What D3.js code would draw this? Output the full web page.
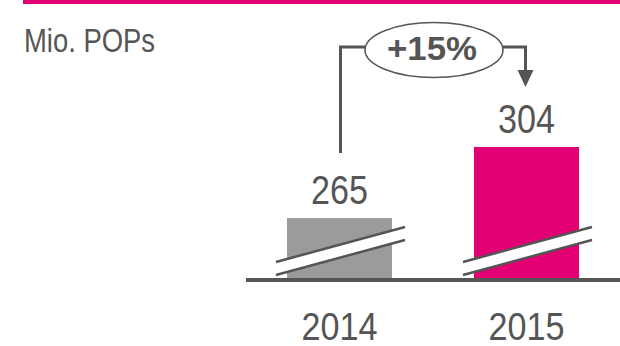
<!DOCTYPE html>
<html>
<head>
<meta charset="utf-8">
<script src="https://cdn.jsdelivr.net/npm/d3@7"></script>
<style>
  body { margin: 0; background: #fff; }
  svg text { font-family: "Liberation Sans Narrow", "Arial Narrow", "Liberation Sans", sans-serif; fill: #555; }
</style>
</head>
<body>
<div id="chart"></div>
<script>
// CONSTANTS
const magenta = "#E20074";
const grey = "#9B9B9B";
const ink = "#555555";
const width = 620;
const height = 346;

// data
const years = ["2014", "2015"];
const pops = [265, 304];
const barColors = [grey, magenta];
const unitLabel = "Mio. POPs";
const growthLabel = "+15%";

const svg = d3.select("#chart")
  .append("svg")
  .attr("width", width)
  .attr("height", height);

// squeeze text to a condensed look (no narrow font installed)
const condense = (sel, len) =>
  sel.attr("textLength", len).attr("lengthAdjust", "spacingAndGlyphs");

// top brand bar
svg.append("rect")
  .attr("x", 23).attr("y", 0)
  .attr("width", width - 23).attr("height", 4)
  .attr("fill", magenta);

// broken axis: bars start well above zero
const x = d3.scaleBand()
  .domain(years)
  .range([287, 579])
  .paddingInner(0.4385)
  .paddingOuter(0);

const y = d3.scaleLinear()
  .domain([231, 304])
  .range([280, 147]);

const baseY = y(231);

const data = years.map((yr, i) => ({ year: yr, value: pops[i], color: barColors[i] }));

// bars
svg.selectAll(".bar")
  .data(data)
  .enter()
  .append("rect")
  .attr("class", "bar")
  .attr("x", d => x(d.year))
  .attr("y", d => y(d.value))
  .attr("width", x.bandwidth())
  .attr("height", d => baseY - y(d.value))
  .attr("fill", d => d.color);

// break marks (white band with two slanted lines)
const breakG = svg.selectAll(".brk")
  .data(data)
  .enter()
  .append("g")
  .attr("class", "brk")
  .attr("transform", d => `translate(${x(d.year) - 11},${baseY})`);

breakG.append("path")
  .attr("d", "M0,-18 L129,-53 L129,-40 L0,-5 Z")
  .attr("fill", "#fff");
breakG.append("line")
  .attr("x1", 0).attr("y1", -18).attr("x2", 129).attr("y2", -53)
  .attr("stroke", ink).attr("stroke-width", 2.5);
breakG.append("line")
  .attr("x1", 0).attr("y1", -5).attr("x2", 129).attr("y2", -40)
  .attr("stroke", ink).attr("stroke-width", 2.5);

// baseline
svg.append("line")
  .attr("x1", 246).attr("x2", width)
  .attr("y1", baseY).attr("y2", baseY)
  .attr("stroke", ink).attr("stroke-width", 4);

// value labels
svg.selectAll(".val")
  .data(data)
  .enter()
  .append("text")
  .attr("class", "val")
  .attr("x", d => x(d.year) + x.bandwidth() / 2)
  .attr("y", d => y(d.value) - 14)
  .attr("text-anchor", "middle")
  .style("font-size", "40px")
  .text(d => d.value)
  .call(condense, 57);

// category labels
svg.selectAll(".yr")
  .data(data)
  .enter()
  .append("text")
  .attr("class", "yr")
  .attr("x", d => x(d.year) + x.bandwidth() / 2)
  .attr("y", 340)
  .attr("text-anchor", "middle")
  .style("font-size", "39px")
  .text(d => d.year)
  .call(condense, 76);

// unit label
svg.append("text")
  .attr("x", 24)
  .attr("y", 52)
  .style("font-size", "33px")
  .text(unitLabel)
  .call(condense, 131);

// growth connector
const x0 = x(years[0]) + x.bandwidth() / 2 + 1;
const x1 = x(years[1]) + x.bandwidth() / 2 - 1;
const ell = { cx: 434, cy: 50, rx: 69, ry: 27.5 };
const lineY = 47;

svg.append("path")
  .attr("d", `M${x0},${y(pops[0]) - 65} V${lineY} H${ell.cx - ell.rx}`)
  .attr("fill", "none")
  .attr("stroke", ink).attr("stroke-width", 3);
svg.append("path")
  .attr("d", `M${ell.cx + ell.rx},${lineY} H${x1} V72`)
  .attr("fill", "none")
  .attr("stroke", ink).attr("stroke-width", 3);
svg.append("path")
  .attr("d", `M${x1 - 8},70 L${x1 + 8},70 L${x1},87 Z`)
  .attr("fill", ink);

svg.append("ellipse")
  .attr("cx", ell.cx).attr("cy", ell.cy)
  .attr("rx", ell.rx).attr("ry", ell.ry)
  .attr("fill", "#fff")
  .attr("stroke", ink).attr("stroke-width", 1.5);

svg.append("text")
  .attr("x", 432)
  .attr("y", 60)
  .attr("text-anchor", "middle")
  .style("font-size", "34px")
  .style("font-weight", "bold")
  .text(growthLabel)
  .call(condense, 90);
</script>
</body>
</html>
